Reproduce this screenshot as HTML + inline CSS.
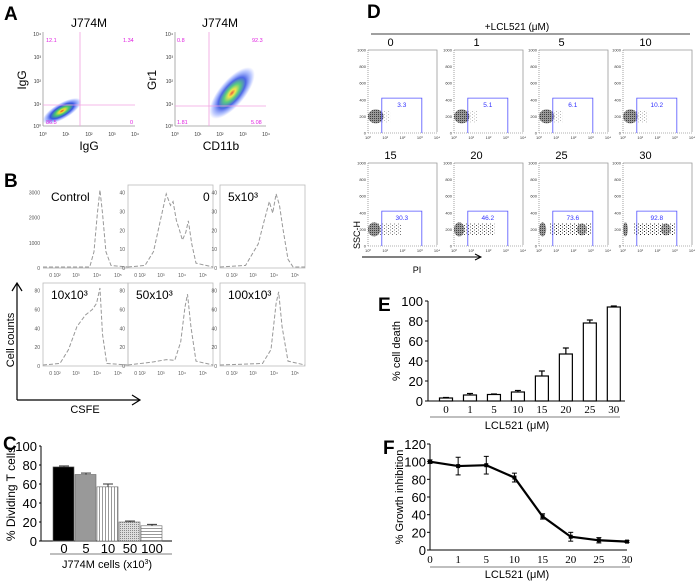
<!DOCTYPE html>
<html><head><meta charset="utf-8"><style>
html,body{margin:0;padding:0;background:#fff;}
svg{display:block;font-family:"Liberation Sans",Arial,sans-serif;}
</style></head><body>
<svg id="fig" width="700" height="585" viewBox="0 0 700 585" xmlns="http://www.w3.org/2000/svg">
<defs>
<radialGradient id="dens" cx="50%" cy="50%" r="50%">
<stop offset="0" stop-color="#e03010"/><stop offset="0.15" stop-color="#f0e020"/><stop offset="0.35" stop-color="#30c060"/><stop offset="0.6" stop-color="#2040e0"/><stop offset="0.85" stop-color="#6080ff" stop-opacity="0.5"/><stop offset="1" stop-color="#8090ff" stop-opacity="0"/>
</radialGradient>
<pattern id="dots" width="4" height="3" patternUnits="userSpaceOnUse"><rect x="0" y="0" width="1" height="1" fill="#222"/><rect x="2" y="1.5" width="1" height="1" fill="#444"/></pattern>
<pattern id="dense" width="2" height="2" patternUnits="userSpaceOnUse"><rect width="2" height="2" fill="#777"/><rect width="1" height="1" fill="#000"/></pattern>
<pattern id="vstripe" width="3" height="3" patternUnits="userSpaceOnUse"><rect width="3" height="3" fill="#fff"/><rect width="1" height="3" fill="#999"/></pattern>
<pattern id="hstripe" width="3" height="3" patternUnits="userSpaceOnUse"><rect width="3" height="3" fill="#fff"/><rect width="3" height="1" fill="#999"/></pattern>
<pattern id="stipple" width="2" height="2" patternUnits="userSpaceOnUse"><rect width="2" height="2" fill="#ddd"/><rect width="1" height="1" fill="#888"/></pattern>
</defs>

<!-- Panel A -->
<g>
<text x="4" y="20" font-size="19" font-weight="bold">A</text>
<text x="89" y="27" font-size="12" text-anchor="middle">J774M</text>
<text x="220" y="27" font-size="12" text-anchor="middle">J774M</text>
<g>
<line x1="43" y1="32" x2="43" y2="126" stroke="#999" stroke-width="0.8"/>
<line x1="43" y1="126" x2="135" y2="126" stroke="#999" stroke-width="0.8"/>
<ellipse cx="62" cy="111" rx="22" ry="8" transform="rotate(-30 62 111)" fill="url(#dens)" opacity="0.9"/>
<line x1="80" y1="32" x2="80" y2="126" stroke="#f0a0e0" stroke-width="0.8"/>
<line x1="43" y1="105" x2="135" y2="105" stroke="#f0a0e0" stroke-width="0.8"/>
<g font-size="5.5" fill="#e020e0"><text x="46" y="42">12.1</text><text x="123" y="42">1.34</text><text x="46" y="124">86.5</text><text x="130" y="124">0</text></g>
<g font-size="5" fill="#333" text-anchor="middle"><text x="43" y="136">10⁰</text><text x="66" y="136">10¹</text><text x="89" y="136">10²</text><text x="112" y="136">10³</text><text x="135" y="136">10⁴</text></g>
<g font-size="5" fill="#333" text-anchor="end"><text x="41" y="128">10⁰</text><text x="41" y="106">10¹</text><text x="41" y="83">10²</text><text x="41" y="59">10³</text><text x="41" y="36">10⁴</text></g>
<text x="89" y="150" font-size="12" text-anchor="middle">IgG</text>
<text transform="translate(26 80) rotate(-90)" font-size="12" text-anchor="middle">IgG</text>
</g>
<g>
<line x1="175" y1="32" x2="175" y2="126" stroke="#999" stroke-width="0.8"/>
<line x1="175" y1="126" x2="266" y2="126" stroke="#999" stroke-width="0.8"/>
<ellipse cx="232" cy="93" rx="32" ry="13" transform="rotate(-50 232 93)" fill="url(#dens)" opacity="0.8"/>
<line x1="209" y1="32" x2="209" y2="126" stroke="#f0a0e0" stroke-width="0.8"/>
<line x1="175" y1="106" x2="266" y2="106" stroke="#f0a0e0" stroke-width="0.8"/>
<g font-size="5.5" fill="#e020e0"><text x="177" y="42">0.8</text><text x="252" y="42">92.3</text><text x="177" y="124">1.81</text><text x="251" y="124">5.08</text></g>
<g font-size="5" fill="#333" text-anchor="middle"><text x="175" y="136">10⁰</text><text x="198" y="136">10¹</text><text x="220" y="136">10²</text><text x="243" y="136">10³</text><text x="266" y="136">10⁴</text></g>
<g font-size="5" fill="#333" text-anchor="end"><text x="173" y="128">10⁰</text><text x="173" y="106">10¹</text><text x="173" y="83">10²</text><text x="173" y="59">10³</text><text x="173" y="36">10⁴</text></g>
<text x="221" y="150" font-size="12" text-anchor="middle">CD11b</text>
<text transform="translate(156 80) rotate(-90)" font-size="12" text-anchor="middle">Gr1</text>
</g>
</g>

<!-- Panel B -->
<g id="panelB">
<text x="4" y="187" font-size="19" font-weight="bold">B</text>
<line x1="17" y1="400" x2="17" y2="284" stroke="#000" stroke-width="1.2"/>
<path d="M12 291 L17 283 L22 291" fill="none" stroke="#000" stroke-width="1.2"/>
<line x1="17" y1="400" x2="139" y2="400" stroke="#000" stroke-width="1.2"/>
<path d="M132 395 L140 400 L132 405" fill="none" stroke="#000" stroke-width="1.2"/>
<text x="85" y="413" font-size="11" text-anchor="middle">CSFE</text>
<text transform="translate(14 340) rotate(-90)" font-size="11" text-anchor="middle">Cell counts</text>
</g>

<!-- Panel C -->
<g id="panelC">
<text x="3" y="450" font-size="19" font-weight="bold">C</text>
<text transform="translate(15 494) rotate(-90)" font-size="12" text-anchor="middle">% Dividing T cells</text>
<line x1="50" y1="554" x2="172" y2="554" stroke="#aaa" stroke-width="1.5"/>
<text x="107" y="568" font-size="11" text-anchor="middle">J774M cells (x10<tspan font-size="7" dy="-4">3</tspan><tspan dy="4">)</tspan></text>
</g>

<!-- Panel D -->
<g id="panelD">
<text x="367" y="18" font-size="19" font-weight="bold">D</text>
<text x="517" y="30" font-size="10" text-anchor="middle">+LCL521 (μM)</text>
<line x1="371" y1="34" x2="690" y2="34" stroke="#000" stroke-width="0.8"/>
<text transform="translate(360 235) rotate(-90)" font-size="9" text-anchor="middle">SSC-H</text>
<line x1="362" y1="257" x2="480" y2="257" stroke="#000" stroke-width="1"/>
<path d="M475 254 L481 257 L475 260" fill="none" stroke="#000"/>
<text x="417" y="273" font-size="9" text-anchor="middle">PI</text>
</g>

<!-- Panel E -->
<g id="panelE">
<text x="378" y="311" font-size="19" font-weight="bold">E</text>
<text transform="translate(400 351) rotate(-90)" font-size="11" text-anchor="middle">% cell death</text>
<line x1="430" y1="417" x2="620" y2="417" stroke="#aaa" stroke-width="1.5"/>
<text x="517" y="429" font-size="11" text-anchor="middle">LCL521 (μM)</text>
</g>

<!-- Panel F -->
<g id="panelF">
<text x="383" y="454" font-size="19" font-weight="bold">F</text>
<text transform="translate(403 497) rotate(-90)" font-size="11" text-anchor="middle">% Growth inhibition</text>
<line x1="430" y1="567" x2="630" y2="567" stroke="#aaa" stroke-width="1.5"/>
<text x="517" y="578" font-size="11" text-anchor="middle">LCL521 (μM)</text>
</g>
</svg>
<script>
// ---- Panel C data ----
var cCategories = ["0","5","10","50","100"];
var cValues = [78, 70, 57, 20, 16];
var cErrors = [1, 1.5, 3, 1, 1.5];
var cTicks = [0, 20, 40, 60, 80, 100];
// ---- Panel E data ----
var eCategories = ["0","1","5","10","15","20","25","30"];
var eValues = [3, 6, 6.5, 9, 25, 47, 78, 94];
var eErrors = [0.5, 1.5, 0.5, 1.5, 5, 6, 3, 1];
var eTicks = [0, 20, 40, 60, 80, 100];
// ---- Panel F data ----
var fCategories = ["0","1","5","10","15","20","25","30"];
var fValues = [100, 95, 96, 82, 38, 15, 11, 9.5];
var fErrors = [2, 10, 10, 5, 3, 5, 3, 1];
var fTicks = [0, 20, 40, 60, 80, 100, 120];
// ---- Panel D data ----
var dDoses = ["0","1","5","10","15","20","25","30"];
var dPercents = [3.3, 5.1, 6.1, 10.2, 30.3, 46.2, 73.6, 92.8];

var NS = "http://www.w3.org/2000/svg";
function mk(parent, tag, attrs, text){var e=document.createElementNS(NS,tag);for(var k in attrs)e.setAttribute(k,attrs[k]);if(text!==undefined)e.textContent=text;parent.appendChild(e);return e;}

// Panel C
(function(){
  var g=document.getElementById('panelC');
  var x0=41,x1=172,yb=541,yt=446;
  function y(v){return yb-(v/100)*(yb-yt);}
  mk(g,'line',{x1:x0,y1:yt,x2:x0,y2:yb,stroke:'#000','stroke-width':1});
  mk(g,'line',{x1:x0,y1:yb,x2:x1,y2:yb,stroke:'#000','stroke-width':1});
  cTicks.forEach(function(t){
    var tl=mk(g,'text',{x:x0-4,y:y(t)+5,'font-size':13,'text-anchor':'end'},t);
    
    
    mk(g,'line',{x1:x0-2,y1:y(t),x2:x0,y2:y(t),stroke:'#000'});
  });
  var fills=['#000','#999','url(#vstripe)','url(#stipple)','url(#hstripe)'];
  var bw=22,start=53;
  cValues.forEach(function(v,i){
    var bx=start+i*bw;
    var r=mk(g,'rect',{x:bx,y:y(v),width:bw-1,height:yb-y(v),fill:fills[i],stroke:'#666','stroke-width':0.6});
    
    
    var ey=y(v+cErrors[i]);
    mk(g,'line',{x1:bx+bw/2,y1:y(v),x2:bx+bw/2,y2:ey,stroke:'#333'});
    mk(g,'line',{x1:bx+bw/2-5,y1:ey,x2:bx+bw/2+5,y2:ey,stroke:'#333'});
    var t=mk(g,'text',{x:bx+bw/2,y:553,'font-size':13,'text-anchor':'middle'},cCategories[i]);
    
    
  });
})();

// Panel E
(function(){
  var g=document.getElementById('panelE');
  var x0=428,x1=625,yb=401,yt=301;
  function y(v){return yb-(v/100)*(yb-yt);}
  mk(g,'line',{x1:x0,y1:yt,x2:x0,y2:yb,stroke:'#000'});
  mk(g,'line',{x1:x0,y1:yb,x2:x1,y2:yb,stroke:'#000'});
  eTicks.forEach(function(t){
    var tl=mk(g,'text',{x:x0-5,y:y(t)+5,'font-size':13,'text-anchor':'end'},t);
    
    
    mk(g,'line',{x1:x0-3,y1:y(t),x2:x0,y2:y(t),stroke:'#000'});
  });
  eValues.forEach(function(v,i){
    var cx=x0+18+i*((x1-x0-24)/(eValues.length-1)*0.97);
    var r=mk(g,'rect',{x:cx-6.5,y:y(v),width:13,height:yb-y(v),fill:'#fff',stroke:'#000','stroke-width':1.2});
    
    
    var ey=y(v+eErrors[i]);
    mk(g,'line',{x1:cx,y1:y(v),x2:cx,y2:ey,stroke:'#000','stroke-width':1.2});
    mk(g,'line',{x1:cx-3,y1:ey,x2:cx+3,y2:ey,stroke:'#000','stroke-width':1.2});
    var t=mk(g,'text',{x:cx,y:413,'font-size':11,'text-anchor':'middle','font-family':'Liberation Serif, serif'},eCategories[i]);
    
    
  });
})();

// Panel F
(function(){
  var g=document.getElementById('panelF');
  var x0=430,x1=627,yb=550,yt=444;
  function y(v){return yb-(v/120)*(yb-yt);}
  function x(i){return x0+i*(x1-x0)/(fValues.length-1);}
  mk(g,'line',{x1:x0,y1:yt,x2:x0,y2:yb,stroke:'#000'});
  mk(g,'line',{x1:x0,y1:yb,x2:x1,y2:yb,stroke:'#000'});
  fTicks.forEach(function(t){
    var tl=mk(g,'text',{x:x0-4,y:y(t)+5,'font-size':13,'text-anchor':'end'},t);
    
    
    mk(g,'line',{x1:x0-3,y1:y(t),x2:x0,y2:y(t),stroke:'#000'});
  });
  var d='';
  fValues.forEach(function(v,i){d+=(i?'L':'M')+x(i)+' '+y(v)+' ';});
  var p=mk(g,'path',{d:d,fill:'none',stroke:'#000','stroke-width':2.2});
  
  
  fValues.forEach(function(v,i){
    var cx=x(i),e1=y(v+fErrors[i]),e2=y(v-fErrors[i]);
    mk(g,'line',{x1:cx,y1:e1,x2:cx,y2:e2,stroke:'#000'});
    mk(g,'line',{x1:cx-2.5,y1:e1,x2:cx+2.5,y2:e1,stroke:'#000'});
    mk(g,'line',{x1:cx-2.5,y1:e2,x2:cx+2.5,y2:e2,stroke:'#000'});
    var m=mk(g,'rect',{x:cx-2,y:y(v)-2,width:4,height:4,fill:'#000'});
    
    
    var t=mk(g,'text',{x:cx,y:563,'font-size':11,'text-anchor':'middle','font-family':'Liberation Serif, serif'},fCategories[i]);
    
    
  });
})();

// Panel D dot plots
(function(){
  var g=document.getElementById('panelD');
  var xs=[368,454,539,623], ys=[50,163], w=69, h=83;
  dDoses.forEach(function(dose,i){
    var px=xs[i%4], py=ys[Math.floor(i/4)];
    var sub=mk(g,'g',{});
    
    
    var tt=mk(sub,'text',{x:px+w/2-12,y:py-4,'font-size':11,'text-anchor':'middle'},dose);
    
    
    mk(sub,'path',{d:'M'+px+' '+py+' L'+(px+w)+' '+py+' L'+(px+w)+' '+(py+h-1),fill:'none',stroke:'#999','stroke-width':0.8});
    mk(sub,'line',{x1:px,y1:py,x2:px,y2:py+h,stroke:'#666','stroke-width':0.6,'stroke-dasharray':'1 1'});
    mk(sub,'line',{x1:px,y1:py+h,x2:px+w,y2:py+h,stroke:'#666','stroke-width':0.6,'stroke-dasharray':'1 1'});
    [0,200,400,600,800,1000].forEach(function(t){
      mk(sub,'text',{x:px-2,y:py+h-t/1000*h+1.5,'font-size':4,'text-anchor':'end',fill:'#333'},t);
    });
    for(var k=0;k<5;k++) mk(sub,'text',{x:px+k*w/4,y:py+h+6,'font-size':4,'text-anchor':'middle',fill:'#333'},'10'+['⁰','¹','²','³','⁴'][k]);
    var yc=py+h-200/1000*h;
    var pct=dPercents[i]/100;
    var negW=12*(1-pct)+2;
    mk(sub,'ellipse',{cx:px+negW/2+1,cy:yc,rx:negW/2+1,ry:7,fill:'url(#dense)',opacity:0.75});
    var bandW=(w*0.62)*Math.min(1,0.25+pct);
    mk(sub,'rect',{x:px+10,y:yc-6,width:bandW,height:12,fill:'url(#dots)',opacity:Math.min(1,0.25+pct*1.2)});
    if(pct>0.6) mk(sub,'ellipse',{cx:px+w*0.62,cy:yc,rx:5,ry:6,fill:'url(#dense)',opacity:0.6});
    var gx1=px+w*0.2, gx2=px+w*0.78, gy=py+h-420/1000*h;
    mk(sub,'path',{d:'M'+gx1+' '+(py+h)+' L'+gx1+' '+gy+' L'+gx2+' '+gy+' L'+gx2+' '+(py+h),fill:'none',stroke:'#5050ff','stroke-width':0.8});
    var lab=mk(sub,'text',{x:(gx1+gx2)/2,y:gy+9,'font-size':6.5,'text-anchor':'middle',fill:'#3030ff'},dPercents[i]);
    
    
  });
})();

// Panel B histograms
(function(){
  var g=document.getElementById('panelB');
  var boxes=[[43,185,'Control',3000],[128,185,'0',40],[220,185,'5x10³',40],[43,283,'10x10³',80],[128,283,'50x10³',80],[220,283,'100x10³',80]];
  var shapes=[
   [[0,0],[0.55,0],[0.6,0.2],[0.64,0.7],[0.67,1],[0.7,0.7],[0.74,0.2],[0.8,0.02],[1,0]],
   [[0,0],[0.2,0.02],[0.3,0.2],[0.38,0.6],[0.42,0.8],[0.45,0.95],[0.5,0.8],[0.53,0.85],[0.57,0.6],[0.6,0.5],[0.64,0.35],[0.68,0.45],[0.71,0.6],[0.75,0.3],[0.8,0.05],[1,0]],
   [[0,0],[0.3,0.02],[0.45,0.3],[0.52,0.6],[0.58,0.85],[0.62,0.7],[0.66,0.95],[0.7,0.8],[0.74,0.5],[0.8,0.1],[0.86,0],[1,0]],
   [[0,0],[0.2,0.02],[0.3,0.2],[0.4,0.5],[0.5,0.65],[0.58,0.72],[0.63,0.8],[0.67,1],[0.7,0.4],[0.75,0.02],[1,0]],
   [[0,0],[0.3,0.04],[0.45,0.07],[0.55,0.06],[0.62,0.3],[0.67,0.75],[0.7,0.92],[0.74,0.5],[0.8,0.05],[1,0]],
   [[0,0],[0.5,0.02],[0.6,0.2],[0.66,0.8],[0.69,0.95],[0.73,0.5],[0.8,0.05],[1,0]]
  ];
  boxes.forEach(function(b,i){
    var px=b[0],py=b[1],w=85,h=83;
    var sub=mk(g,'g',{});
    
    
    if(i>0) mk(sub,'rect',{x:px,y:py,width:w,height:h,fill:'none',stroke:'#bbb','stroke-width':0.8});
    else mk(sub,'line',{x1:px,y1:py+h,x2:px+w,y2:py+h,stroke:'#bbb'});
    var lx=(i==1)?px+w-10:px+8;
    var t=mk(sub,'text',{x:lx,y:py+16,'font-size':12},b[2]);
    
    
    var ticks=b[3]===3000?[0,1000,2000,3000]:(b[3]===40?[0,10,20,30,40]:[0,20,40,60,80]);
    ticks.forEach(function(tv){
      var yy=py+h-(tv/(b[3]*1.1))*h;
      mk(sub,'text',{x:px-3,y:yy+2,'font-size':5,'text-anchor':'end',fill:'#555'},tv);
    });
    ['0 10²','10³','10⁴','10⁵'].forEach(function(s,k){
      mk(sub,'text',{x:px+12+k*21,y:py+h+9,'font-size':5,'text-anchor':'middle',fill:'#555'},s);
    });
    var d='';
    shapes[i].forEach(function(p,k){d+=(k?'L':'M')+(px+p[0]*w)+' '+(py+h-1-p[1]*(h-6))+' ';});
    mk(sub,'path',{d:d,fill:'none',stroke:'#999','stroke-width':1,'stroke-dasharray':'4 2'});
  });
})();
</script>
</body></html>
